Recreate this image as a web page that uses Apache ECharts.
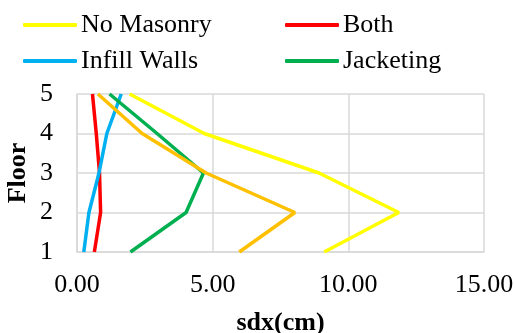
<!DOCTYPE html>
<html>
<head>
<meta charset="utf-8">
<script src="https://cdn.jsdelivr.net/npm/echarts@6/dist/echarts.min.js"></script>
<style>html,body{margin:0;padding:0;background:#fff}#c{width:515px;height:333px}</style>
</head>
<body>
<div id="c"></div>
<script>
const floors = [1, 2, 3, 4, 5];
const noMasonry = [9.11, 11.86, 8.92, 4.69, 1.94];
const both = [0.64, 0.87, 0.83, 0.71, 0.57];
const infillWalls = [0.25, 0.44, 0.81, 1.10, 1.63];
const jacketing = [1.97, 4.02, 4.66, 2.95, 1.20];
const other = [5.98, 8.03, 4.76, 2.40, 0.77];
const xTicks = [0, 5, 10, 15];

const font = 'Liberation Serif';
function pts(vals){ return vals.map((v,i)=>[v, floors[i]]); }
function ser(name, vals, color){
  return {name, type:'line', data:pts(vals), symbol:'none', color,
    lineStyle:{width:3.5, color}, z: 3};
}
const legendCommon = {orient:'vertical', top:12, padding:0, itemWidth:54, itemHeight:4, itemGap:10,
  icon:'roundRect', textStyle:{fontFamily:font, fontSize:26, color:'#000', padding:[0,0,0,-1]}};
const chart = echarts.init(document.getElementById('c'));
chart.setOption({
  animation:false,
  textStyle:{fontFamily:font},
  grid:{left:77, right:31, top:94, bottom:81, containLabel:false, outerBoundsMode:'none'},
  legend:[
    Object.assign({data:['No Masonry','Infill Walls'], left:23}, legendCommon),
    Object.assign({data:['Both','Jacketing'], left:285}, legendCommon)
  ],
  xAxis:{type:'value', min:0, max:15, interval:5,
    name:'sdx(cm)', nameLocation:'middle', nameGap:58, nameMoveOverlap:false,
    nameTextStyle:{fontFamily:font, fontSize:26, fontWeight:'bold', color:'#000'},
    axisLine:{show:true, lineStyle:{color:'#d9d9d9', width:1.5}},
    axisTick:{show:false},
    splitLine:{show:true, lineStyle:{color:'#d9d9d9', width:1.5}},
    axisLabel:{fontFamily:font, fontSize:26, color:'#000', margin:20,
      formatter:v=>xTicks.includes(v)?v.toFixed(2):''}},
  yAxis:{type:'value', min:1, max:5, interval:1,
    name:'Floor', nameLocation:'middle', nameGap:46, nameRotate:90, nameMoveOverlap:false,
    nameTextStyle:{fontFamily:font, fontSize:26, fontWeight:'bold', color:'#000'},
    axisLine:{show:true, lineStyle:{color:'#d9d9d9', width:1.5}},
    axisTick:{show:false},
    splitLine:{show:true, lineStyle:{color:'#d9d9d9', width:1.5}},
    axisLabel:{fontFamily:font, fontSize:26, color:'#000', margin:24}},
  series:[
    ser('No Masonry', noMasonry, '#FFFF00'),
    ser('Both', both, '#FF0000'),
    ser('Infill Walls', infillWalls, '#00B0F0'),
    ser('Jacketing', jacketing, '#00B050'),
    ser('Other', other, '#FFC000')
  ]
});
</script>
</body>
</html>
